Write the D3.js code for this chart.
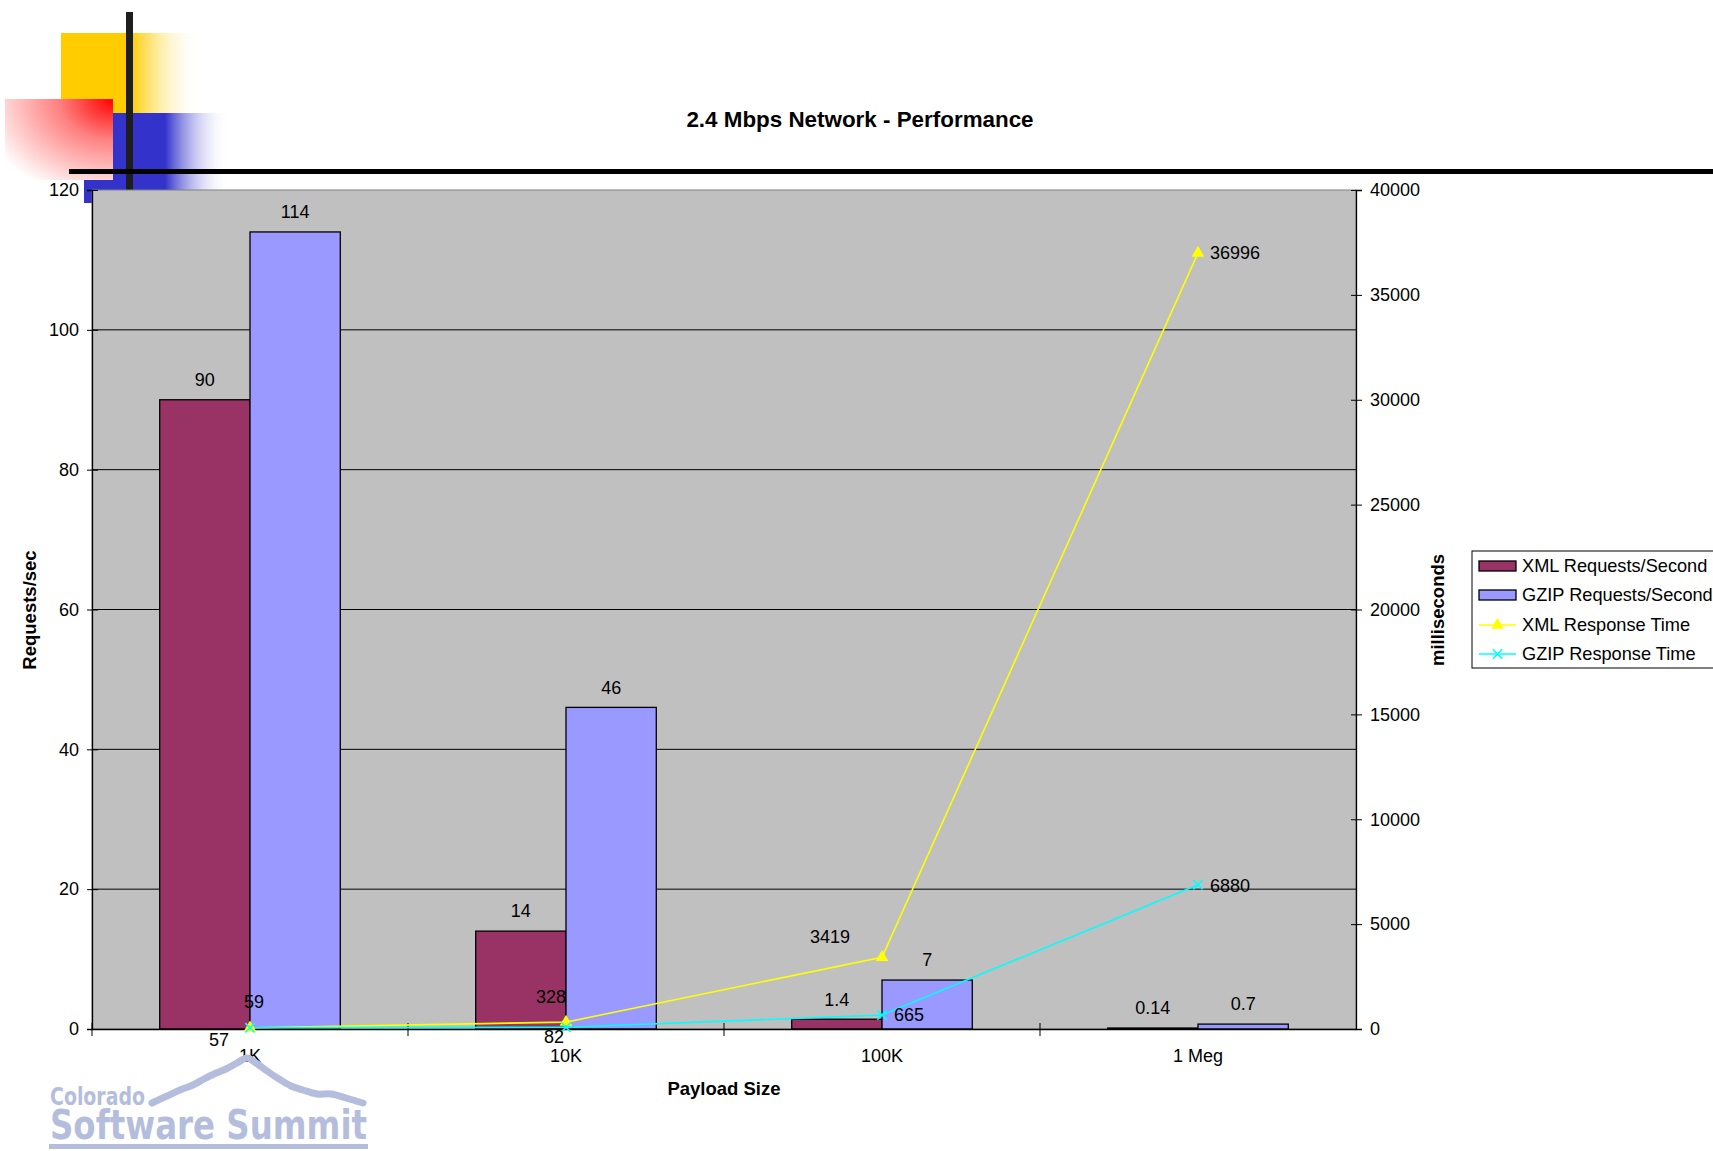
<!DOCTYPE html>
<html>
<head>
<meta charset="utf-8">
<script src="https://cdn.jsdelivr.net/npm/d3@7"></script>
<style>
  html, body { margin: 0; padding: 0; background: #fff; }
  svg { display: block; font-family: "Liberation Sans", Arial, sans-serif; }
</style>
</head>
<body>
<svg id="chart" width="1713" height="1151"></svg>
<script>
// ---- Data ----
const categories = ["1K", "10K", "100K", "1 Meg"];
const xmlRequests = [90, 14, 1.4, 0.14];
const gzipRequests = [114, 46, 7, 0.7];
const xmlResponse = [59, 328, 3419, 36996];
const gzipResponse = [57, 82, 665, 6880];
const leftTicks = [0, 20, 40, 60, 80, 100, 120];
const rightTicks = [0, 5000, 10000, 15000, 20000, 25000, 30000, 35000, 40000];
const barSeriesNames = ["XML Requests/Second", "GZIP Requests/Second"];
const lineSeriesNames = ["XML Response Time", "GZIP Response Time"];
const titleText = "2.4 Mbps Network - Performance";

// ---- Layout / style ----
const W = 1713, H = 1151;
const plot = { left: 92, right: 1356, top: 190, bottom: 1029 };
const barColors = ["#993366", "#9999FF"];
const lineColors = ["#FFFF00", "#00FFFF"];
// label offsets (dx, dy, anchor) for line data labels
const xmlLabelPos = [[4, -26, "middle"], [-15, -25, "middle"], [-52, -21, "middle"], [12, 0, "start"]];
const gzipLabelPos = [[-31, 12, "middle"], [-12, 9, "middle"], [12, 0, "start"], [12, 1, "start"]];

const svg = d3.select("#chart");

// ---- Decorations ----
const defs = svg.append("defs");
const gy = defs.append("linearGradient").attr("id", "gYel").attr("x1", 0).attr("x2", 1).attr("y1", 0).attr("y2", 0);
gy.append("stop").attr("offset", "0").attr("stop-color", "#FFCC00");
gy.append("stop").attr("offset", "0.5").attr("stop-color", "#FFCC00");
gy.append("stop").attr("offset", "1").attr("stop-color", "#FFFFFF").attr("stop-opacity", 0);
const gb = defs.append("linearGradient").attr("id", "gBlue").attr("x1", 0).attr("x2", 1).attr("y1", 0).attr("y2", 0);
gb.append("stop").attr("offset", "0").attr("stop-color", "#3333CC");
gb.append("stop").attr("offset", "0.56").attr("stop-color", "#3333CC");
gb.append("stop").attr("offset", "1").attr("stop-color", "#FFFFFF").attr("stop-opacity", 0);
const gr = defs.append("radialGradient").attr("id", "gRed").attr("cx", 1).attr("cy", 0).attr("r", 1.25);
gr.append("stop").attr("offset", "0").attr("stop-color", "#FF0000");
gr.append("stop").attr("offset", "0.4").attr("stop-color", "#FF8080");
gr.append("stop").attr("offset", "1").attr("stop-color", "#FFFFFF");

const deco = svg.append("g");
deco.append("rect").attr("x", 61).attr("y", 33).attr("width", 140).attr("height", 80).attr("fill", "url(#gYel)");
deco.append("rect").attr("x", 84).attr("y", 113).attr("width", 145).attr("height", 90).attr("fill", "url(#gBlue)");
deco.append("rect").attr("x", 5).attr("y", 99).attr("width", 108).attr("height", 81).attr("fill", "url(#gRed)");
deco.append("rect").attr("x", 126).attr("y", 12).attr("width", 7).attr("height", 180).attr("fill", "#1e1e1e");
deco.append("rect").attr("x", 69).attr("y", 169).attr("width", W - 69).attr("height", 5).attr("fill", "#000");

// ---- Title ----
svg.append("text").attr("x", 860).attr("y", 127).attr("text-anchor", "middle")
  .attr("font-size", 22.4).attr("font-weight", "bold").text(titleText);

// ---- Scales ----
const x = d3.scaleBand().domain(categories).range([plot.left, plot.right]).paddingInner(0).paddingOuter(0);
const xSub = d3.scaleBand().domain(barSeriesNames).range([0, x.bandwidth()]).paddingInner(0).paddingOuter(0.75);
const yL = d3.scaleLinear().domain([0, 120]).range([plot.bottom, plot.top]);
const yR = d3.scaleLinear().domain([0, 40000]).range([plot.bottom, plot.top]);

// ---- Plot area ----
svg.append("rect").attr("x", plot.left).attr("y", plot.top)
  .attr("width", plot.right - plot.left).attr("height", plot.bottom - plot.top)
  .attr("fill", "#C0C0C0").attr("stroke", "#808080").attr("stroke-width", 1);

// gridlines
svg.append("g").selectAll("line").data(leftTicks.filter(d => d > 0 && d < 120)).join("line")
  .attr("x1", plot.left).attr("x2", plot.right)
  .attr("y1", d => yL(d)).attr("y2", d => yL(d))
  .attr("stroke", "#000").attr("stroke-width", 1);

// ---- Bars ----
const barData = [];
categories.forEach((c, i) => {
  barData.push({ cat: c, s: barSeriesNames[0], v: xmlRequests[i], color: barColors[0] });
  barData.push({ cat: c, s: barSeriesNames[1], v: gzipRequests[i], color: barColors[1] });
});
svg.append("g").selectAll("rect").data(barData).join("rect")
  .attr("x", d => x(d.cat) + xSub(d.s))
  .attr("y", d => yL(d.v))
  .attr("width", xSub.bandwidth())
  .attr("height", d => yL(0) - yL(d.v))
  .attr("fill", d => d.color).attr("stroke", "#000").attr("stroke-width", 1.3);

svg.append("g").selectAll("text").data(barData).join("text")
  .attr("x", d => x(d.cat) + xSub(d.s) + xSub.bandwidth() / 2)
  .attr("y", d => yL(d.v) - 20)
  .attr("dy", "0.35em").attr("text-anchor", "middle").attr("font-size", 18)
  .text(d => d.v);

// ---- Axes ----
const axL = svg.append("g").attr("transform", `translate(${plot.left},0)`)
  .call(d3.axisLeft(yL).tickValues(leftTicks).tickSize(5).tickPadding(8).tickFormat(d3.format("d")));
axL.select(".domain").attr("stroke", "#000").attr("stroke-width", 1.3);
axL.selectAll(".tick line").attr("x1", -5).attr("x2", 6).attr("stroke", "#000");
axL.selectAll("text").attr("font-size", 18).attr("font-family", "Liberation Sans, Arial, sans-serif").attr("fill", "#000");

const axR = svg.append("g").attr("transform", `translate(${plot.right},0)`)
  .call(d3.axisRight(yR).tickValues(rightTicks).tickSize(6).tickPadding(8).tickFormat(d3.format("d")));
axR.select(".domain").attr("stroke", "#000").attr("stroke-width", 1.3);
axR.selectAll(".tick line").attr("x1", -5).attr("x2", 6).attr("stroke", "#000");
axR.selectAll("text").attr("font-size", 18).attr("font-family", "Liberation Sans, Arial, sans-serif").attr("fill", "#000");

const axB = svg.append("g").attr("transform", `translate(0,${plot.bottom})`)
  .call(d3.axisBottom(x).tickSize(0).tickPadding(20));
axB.select(".domain").attr("stroke", "#000").attr("stroke-width", 1.3);
axB.selectAll("text").attr("font-size", 18).attr("font-family", "Liberation Sans, Arial, sans-serif").attr("fill", "#000");
// category boundary ticks
const bounds = categories.map(c => x(c)).concat([plot.right]);
svg.append("g").selectAll("line").data(bounds.slice(0, 4)).join("line")
  .attr("x1", d => d).attr("x2", d => d)
  .attr("y1", plot.bottom - 6).attr("y2", plot.bottom + 7)
  .attr("stroke", "#000").attr("stroke-width", 1);

// ---- Lines ----
const cx = c => x(c) + x.bandwidth() / 2;
const lineGen = d3.line().x(d => cx(d.cat)).y(d => yR(d.v));
const xmlPts = categories.map((c, i) => ({ cat: c, v: xmlResponse[i] }));
const gzipPts = categories.map((c, i) => ({ cat: c, v: gzipResponse[i] }));

svg.append("path").datum(xmlPts).attr("d", lineGen).attr("fill", "none")
  .attr("stroke", lineColors[0]).attr("stroke-width", 1.6);
svg.append("path").datum(gzipPts).attr("d", lineGen).attr("fill", "none")
  .attr("stroke", lineColors[1]).attr("stroke-width", 1.6);

const tri = d3.symbol().type(d3.symbolTriangle).size(70);
svg.append("g").selectAll("path").data(xmlPts).join("path")
  .attr("transform", d => `translate(${cx(d.cat)},${yR(d.v)})`)
  .attr("d", tri).attr("fill", lineColors[0]);
const cross = d3.symbol().type(d3.symbolX).size(60);
svg.append("g").selectAll("path").data(gzipPts).join("path")
  .attr("transform", d => `translate(${cx(d.cat)},${yR(d.v)})`)
  .attr("d", cross).attr("fill", "none").attr("stroke", lineColors[1]).attr("stroke-width", 1.6);

svg.append("g").selectAll("text").data(xmlPts).join("text")
  .attr("x", (d, i) => cx(d.cat) + xmlLabelPos[i][0])
  .attr("y", (d, i) => yR(d.v) + xmlLabelPos[i][1])
  .attr("text-anchor", (d, i) => xmlLabelPos[i][2])
  .attr("dy", "0.35em").attr("font-size", 18).text(d => d.v);
svg.append("g").selectAll("text").data(gzipPts).join("text")
  .attr("x", (d, i) => cx(d.cat) + gzipLabelPos[i][0])
  .attr("y", (d, i) => yR(d.v) + gzipLabelPos[i][1])
  .attr("text-anchor", (d, i) => gzipLabelPos[i][2])
  .attr("dy", "0.35em").attr("font-size", 18).text(d => d.v);

// ---- Axis titles ----
svg.append("text").attr("transform", `translate(30,610) rotate(-90)`).attr("text-anchor", "middle")
  .attr("dy", "0.35em").attr("font-size", 18.5).attr("font-weight", "bold").text("Requests/sec");
svg.append("text").attr("transform", `translate(1438,610) rotate(-90)`).attr("text-anchor", "middle")
  .attr("dy", "0.35em").attr("font-size", 18.5).attr("font-weight", "bold").text("milliseconds");
svg.append("text").attr("x", 724).attr("y", 1089).attr("text-anchor", "middle")
  .attr("dy", "0.35em").attr("font-size", 18.5).attr("font-weight", "bold").text("Payload Size");

// ---- Legend ----
const lg = svg.append("g");
lg.append("rect").attr("x", 1472).attr("y", 551).attr("width", 300).attr("height", 117)
  .attr("fill", "#fff").attr("stroke", "#000").attr("stroke-width", 1);
const legendItems = [
  { name: barSeriesNames[0], type: "bar", color: barColors[0] },
  { name: barSeriesNames[1], type: "bar", color: barColors[1] },
  { name: lineSeriesNames[0], type: "tri", color: lineColors[0] },
  { name: lineSeriesNames[1], type: "x", color: lineColors[1] }
];
const rowY = [566, 595, 625, 654];
legendItems.forEach((it, i) => {
  const g = lg.append("g").attr("transform", `translate(1479,${rowY[i]})`);
  if (it.type === "bar") {
    g.append("rect").attr("x", 0).attr("y", -5).attr("width", 37).attr("height", 10)
      .attr("fill", it.color).attr("stroke", "#000").attr("stroke-width", 1.3);
  } else {
    g.append("line").attr("x1", 0).attr("x2", 37).attr("y1", 0).attr("y2", 0)
      .attr("stroke", it.color).attr("stroke-width", 1.6);
    if (it.type === "tri") {
      g.append("path").attr("transform", "translate(18.5,0)").attr("d", tri).attr("fill", it.color);
    } else {
      g.append("path").attr("transform", "translate(18.5,0)").attr("d", cross)
        .attr("fill", "none").attr("stroke", it.color).attr("stroke-width", 1.6);
    }
  }
  g.append("text").attr("x", 43).attr("y", 0).attr("dy", "0.35em").attr("font-size", 18.2).text(it.name);
});

// ---- Logo ----
const logoColor = "#B4BEDC";
const logo = svg.append("g");
const ridge = [[152,1103],[167,1096],[180,1090],[193,1085],[204,1079],[214,1074],[226,1069],[237,1063],[247,1058],[256,1063],[267,1071],[279,1079],[291,1086],[303,1090],[317,1094],[331,1094],[346,1098],[363,1103]];
logo.append("path").attr("d", d3.line().curve(d3.curveCatmullRom)(ridge))
  .attr("fill", "none").attr("stroke", logoColor).attr("stroke-width", 7).attr("stroke-linecap", "round");
logo.append("text").attr("x", 50).attr("y", 1105).attr("font-size", 25).attr("font-weight", "bold")
  .attr("font-family", "DejaVu Sans, sans-serif")
  .attr("fill", logoColor).attr("textLength", 95).attr("lengthAdjust", "spacingAndGlyphs").text("Colorado");
logo.append("text").attr("x", 50).attr("y", 1139).attr("font-size", 40).attr("font-weight", "bold")
  .attr("font-family", "DejaVu Sans, sans-serif")
  .attr("fill", logoColor).attr("textLength", 317).attr("lengthAdjust", "spacingAndGlyphs").text("Software  Summit");
logo.append("rect").attr("x", 49).attr("y", 1144).attr("width", 319).attr("height", 5).attr("fill", logoColor);
</script>
</body>
</html>
